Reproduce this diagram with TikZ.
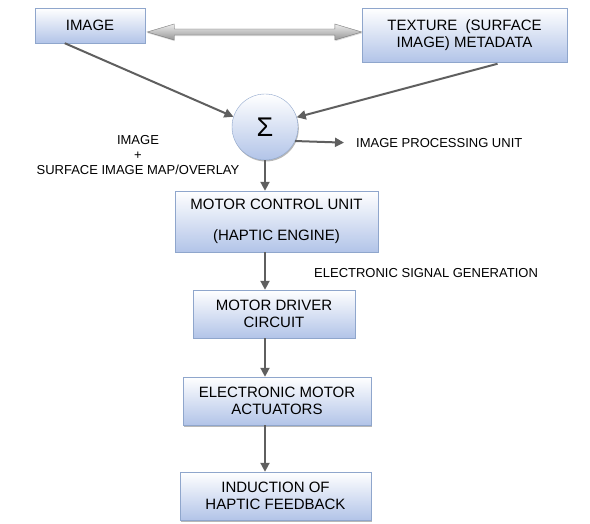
\documentclass[tikz,border=0pt]{standalone}
\usepackage{fontspec}
\setmainfont{Liberation Sans}
\usepackage{tikz}
\usetikzlibrary{arrows.meta,shadows,calc}
\definecolor{boxline}{RGB}{143,166,204}
\definecolor{boxfill}{RGB}{178,196,232}
\definecolor{arrowgray}{RGB}{95,95,95}
\definecolor{blockgray}{RGB}{150,150,150}

\begin{document}
\begin{tikzpicture}[x=1pt,y=-1pt,>=Triangle,
    blockbox/.style={draw=boxline,top color=white,bottom color=boxfill,
        align=center,font=\fontsize{15}{17}\selectfont,inner sep=2pt,
        drop shadow={shadow xshift=0.8pt,shadow yshift=-1.5pt,fill=gray!70,opacity=0.8}},
    flow/.style={->,arrowgray,line width=2pt,
        >={Triangle[width=9pt,length=9pt]}},
    note/.style={font=\fontsize{13}{15}\selectfont,inner sep=1pt}]
    \useasboundingbox (0,0) rectangle (590,524);

    % Top row
    \node[blockbox,minimum width=110pt,minimum height=35pt] (img) at (90,25.5) {IMAGE};
    \node[blockbox,minimum width=205pt,minimum height=54pt] (tex) at (464.5,35)
        {TEXTURE\ \ (SURFACE\\IMAGE) METADATA};

    % Block arrow between them
    \coordinate (bl) at ($(img.east |- 0,32)+(2,0)$);
    \coordinate (br) at (tex.west |- 0,32);
    \draw[blockgray!80!black,line width=0.4pt,top color=gray!15,bottom color=blockgray,
        drop shadow={shadow xshift=0.5pt,shadow yshift=-1.2pt,fill=gray!60}]
        (bl) -- ++(27,-8) -- ++(0,5) -- ($(br)+(-27,-3)$) -- ++(0,-5) -- (br)
        -- ++(-27,8) -- ++(0,-5) -- ($(bl)+(27,3)$) -- ++(0,5) -- cycle;

    % Summation
    \node[circle,draw=boxline,top color=white,bottom color=boxfill,minimum size=66pt,
        inner sep=0pt,font=\fontsize{27}{27}\selectfont,
        drop shadow={shadow xshift=0.8pt,shadow yshift=-1.5pt,fill=gray!70,opacity=0.8}]
        (sum) at (265,127) {Σ};
    \draw[flow] (img.215) -- (sum.162);
    \draw[flow,shorten <=6pt] (tex.-35) -- (sum.17);

    % Side labels
    \node[note,anchor=west] (ipu) at (355,143) {IMAGE PROCESSING UNIT};
    \draw[flow,shorten >=11pt] (sum.-25) -- (ipu.west);
    \node[note,align=center] (ovl) at (138,155)
        {IMAGE\\+\\SURFACE IMAGE MAP/OVERLAY};

    % Motor chain
    \node[blockbox,minimum width=203pt,minimum height=61pt] (mcu) at (276.5,221.5)
        {MOTOR CONTROL UNIT\\[14pt](HAPTIC ENGINE)};
    \node[note,anchor=west] (esg) at (313,273) {ELECTRONIC SIGNAL GENERATION};
    \node[blockbox,minimum width=162pt,minimum height=48pt] (mdc) at (274,314)
        {MOTOR DRIVER\\CIRCUIT};
    \node[blockbox,minimum width=188pt,minimum height=48pt] (ema) at (277,401)
        {ELECTRONIC MOTOR\\ACTUATORS};
    \node[blockbox,minimum width=191pt,minimum height=48pt] (ihf) at (275.5,496)
        {INDUCTION OF\\HAPTIC FEEDBACK};

    \draw[flow] (sum.south) -- (sum.south |- mcu.north);
    \draw[flow] (mcu.south -| sum.south) -- (mdc.north -| sum.south);
    \draw[flow] (mdc.south -| sum.south) -- (ema.north -| sum.south);
    \draw[flow] (ema.south -| sum.south) -- (ihf.north -| sum.south);
\end{tikzpicture}
\end{document}
